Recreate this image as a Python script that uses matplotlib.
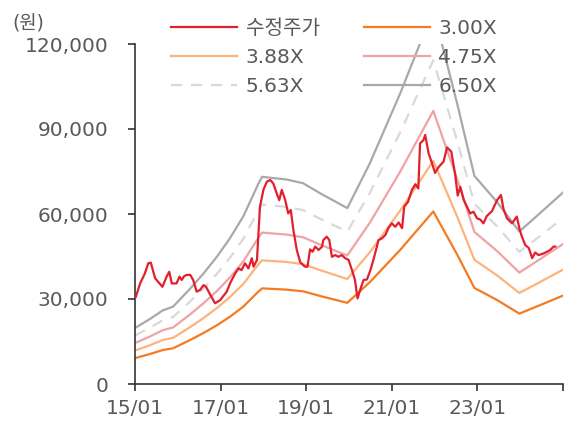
import matplotlib
matplotlib.use("Agg")
import matplotlib.pyplot as plt

plt.rcParams['font.family'] = ['DejaVu Sans', 'Noto Sans CJK KR']

# ---- data (x in decimal years) ----
price_year = [2015.02, 2015.12, 2015.23, 2015.31, 2015.37, 2015.47, 2015.54, 2015.64, 2015.74, 2015.80,
              2015.86, 2015.97, 2016.04, 2016.09, 2016.15, 2016.21, 2016.29, 2016.36, 2016.44, 2016.52,
              2016.60, 2016.66, 2016.74, 2016.83, 2016.87, 2016.99, 2017.06, 2017.14, 2017.22, 2017.34,
              2017.42, 2017.49, 2017.57, 2017.65, 2017.73, 2017.77, 2017.85, 2017.88, 2017.92, 2018.00,
              2018.08, 2018.16, 2018.23, 2018.31, 2018.37, 2018.43, 2018.51, 2018.58, 2018.64, 2018.70,
              2018.78, 2018.86, 2018.97, 2019.03, 2019.09, 2019.15, 2019.21, 2019.29, 2019.37, 2019.40,
              2019.48, 2019.54, 2019.60, 2019.68, 2019.75, 2019.83, 2019.91, 2019.99, 2020.07, 2020.14,
              2020.20, 2020.26, 2020.34, 2020.42, 2020.50, 2020.57, 2020.69, 2020.77, 2020.85, 2020.92,
              2021.00, 2021.08, 2021.16, 2021.24, 2021.29, 2021.38, 2021.47, 2021.55, 2021.62, 2021.66,
              2021.74, 2021.78, 2021.86, 2021.94, 2022.01, 2022.09, 2022.21, 2022.29, 2022.39, 2022.48,
              2022.54, 2022.60, 2022.68, 2022.76, 2022.83, 2022.91, 2022.99, 2023.07, 2023.14, 2023.22,
              2023.34, 2023.46, 2023.55, 2023.61, 2023.69, 2023.81, 2023.92, 2023.99, 2024.04, 2024.12,
              2024.20, 2024.28, 2024.35, 2024.43, 2024.55, 2024.63, 2024.70, 2024.78, 2024.82]
price = [30800, 35500, 39000, 42600, 42800, 37300, 36100, 34300, 37900, 39600,
         35500, 35500, 37900, 36700, 38100, 38500, 38500, 36700, 32600, 33200,
         34900, 34300, 32000, 29600, 28500, 29600, 31000, 32500, 35500, 39000,
         40800, 40200, 42600, 40800, 44400, 41400, 43800, 52000, 62600, 68500,
         71400, 72000, 70800, 67300, 64900, 68500, 64900, 60200, 61400, 54400,
         47300, 43000, 41400, 41400, 47500, 46700, 48500, 47300, 48500, 50800,
         52000, 50800, 44900, 45500, 44900, 45500, 44400, 43800, 40200, 36700,
         30200, 33200, 36700, 36900, 40200, 43800, 50800, 51400, 52600, 55000,
         56700, 55500, 57000, 55000, 62600, 64300, 68500, 70500, 69000, 84900,
         86100, 87900, 81400, 77900, 74500, 76500, 78500, 83500, 82000, 74000,
         66500, 69600, 65000, 62500, 60200, 60800, 58500, 58000, 56700, 59300,
         61000, 64900, 66700, 61800, 58500, 56700, 59100, 54400, 52000, 49000,
         48000, 44400, 46400, 45500, 46100, 46700, 47300, 48500, 48500]

eps_year = [2015.00, 2015.35, 2015.65, 2015.89, 2016.29, 2016.59, 2016.92, 2017.22, 2017.53, 2017.88,
            2017.97, 2018.55, 2018.93, 2019.33, 2019.96, 2020.49, 2021.20, 2021.97, 2022.53, 2022.93,
            2023.46, 2023.98, 2024.47, 2025.00]
eps = [3040, 3530, 4000, 4200, 5180, 5970, 6930, 7920, 9100, 10860,
       11250, 11100, 10900, 10350, 9550, 12000, 15800, 20300, 15200, 11300,
       9880, 8280, 9290, 10400]

multiples = [3.00, 3.88, 4.75, 5.63, 6.50]
band_labels = ['3.00X', '3.88X', '4.75X', '5.63X', '6.50X']
price_label = '수정주가'

yticks = [0, 30000, 60000, 90000, 120000]
xticks = [2015, 2017, 2019, 2021, 2023, 2025]
xticklabels = ['15/01', '17/01', '19/01', '21/01', '23/01', '']

# ---- styles ----
band_colors = ['#F47B20', '#FDB47C', '#EEA3A6', '#D9D9D9', '#A9A9A9']
band_styles = ['-', '-', '-', (0, (5, 4)), '-']
price_color = '#E31E2D'
text_color = '#595959'
fs = 14.5

W, H = 569, 426
fig = plt.figure(figsize=(W / 100, H / 100), dpi=100)
ax = fig.add_axes([135 / W, 1 - 384 / H, (563 - 135) / W, (384 - 44) / H])

band_handles = []
for m, lab, c, ls in zip(multiples, band_labels, band_colors, band_styles):
    ln, = ax.plot(eps_year, [e * m for e in eps], color=c, lw=1.6, ls=ls, label=lab, zorder=2)
    band_handles.append(ln)
ph, = ax.plot(price_year, price, color=price_color, lw=1.6, label=price_label, zorder=3)

ax.set_xlim(2015, 2025)
ax.set_ylim(0, 120000)
ax.set_yticks(yticks)
ax.set_yticklabels([f'{v:,}' for v in yticks])
ax.set_xticks(xticks)
ax.set_xticklabels(xticklabels)
for s in ['top', 'right']:
    ax.spines[s].set_visible(False)
for s in ['left', 'bottom']:
    ax.spines[s].set_color('#333333')
    ax.spines[s].set_linewidth(1.2)
ax.tick_params(axis='y', length=5, width=1.2, color='#333333', labelsize=fs, labelcolor=text_color, pad=14)
ax.tick_params(axis='x', length=5, width=1.2, color='#333333', labelsize=fs, labelcolor=text_color, pad=6)

# legend: row-major order via column-major handles
handles = [ph, band_handles[1], band_handles[3], band_handles[0], band_handles[2], band_handles[4]]
labels = [h.get_label() for h in handles]
fig.legend(handles, labels, ncol=2, loc='upper left', bbox_to_anchor=(171 / W, 1 - 19 / H),
           frameon=False, fontsize=fs, labelcolor=text_color, handlelength=3.3,
           handletextpad=0.4, columnspacing=2.2, labelspacing=0.5, borderpad=0, borderaxespad=0)

fig.text(12 / W, 1 - 24 / H, '(원)', fontsize=fs - 1, color=text_color, va='center', ha='left')

fig.savefig('out.png', dpi=100)
